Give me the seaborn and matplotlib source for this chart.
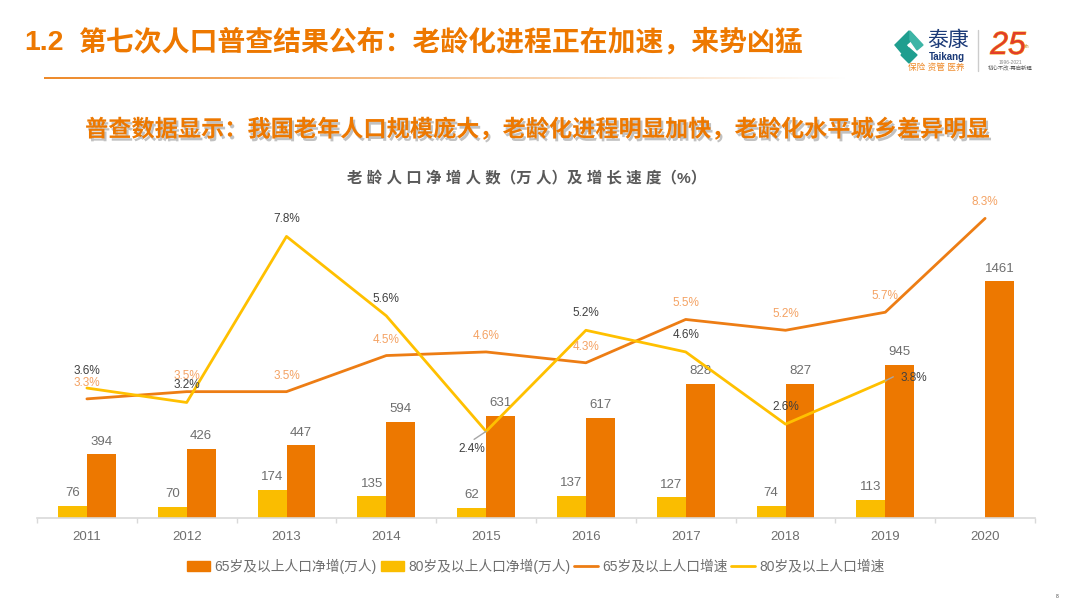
import numpy as np
import pandas as pd
import matplotlib
matplotlib.use("Agg")
import matplotlib.pyplot as plt
import matplotlib.patheffects as pe
from matplotlib.lines import Line2D
from matplotlib.patches import Patch, Polygon
from matplotlib.ticker import FixedLocator
import seaborn as sns

years = ["2011", "2012", "2013", "2014", "2015", "2016", "2017", "2018", "2019", "2020"]
net_65 = [394, 426, 447, 594, 631, 617, 828, 827, 945, 1461]
net_80 = [76, 70, 174, 135, 62, 137, 127, 74, 113, np.nan]
rate_65 = [3.3, 3.5, 3.5, 4.5, 4.6, 4.3, 5.5, 5.2, 5.7, 8.3]
rate_80 = [3.6, 3.2, 7.8, 5.6, 2.4, 5.2, 4.6, 2.6, 3.8, np.nan]
name_b65 = "65岁及以上人口净增(万人)"
name_b80 = "80岁及以上人口净增(万人)"
name_l65 = "65岁及以上人口增速"
name_l80 = "80岁及以上人口增速"

sns.set_theme(style="white")
plt.rcParams["font.family"] = ["Liberation Sans", "Noto Sans CJK SC", "DejaVu Sans"]

ORANGE = "#ED7800"
YELLOW = "#FABD00"
LINE_O = "#ED7D14"
LINE_Y = "#FFC000"
GREY = "#6E6E6E"

W, H = 1080, 600
fig = plt.figure(figsize=(W / 100, H / 100), dpi=100, facecolor="white")

def px_axes(l, t, r, b):
    return fig.add_axes([l / W, 1 - b / H, (r - l) / W, (b - t) / H])

TOP, BASE, LEFT, RIGHT = 190, 518, 37, 1035
ax = px_axes(LEFT, TOP, RIGHT, BASE)
df = pd.DataFrame({"year": years * 2,
                   "value": net_80 + net_65,
                   "series": [name_b80] * 10 + [name_b65] * 10})
sns.barplot(data=df, x="year", y="value", hue="series", hue_order=[name_b80, name_b65],
            palette=[YELLOW, ORANGE], width=0.58, gap=0, dodge=True, saturation=1,
            legend=False, linewidth=0, ax=ax)
ax.set_xlim(-0.5, 9.5)
ax.set_ylim(0, (BASE - TOP) / 0.1622)
ax.set_xlabel("")
ax.set_ylabel("")
ax.set_yticks([])
ax.patch.set_alpha(0)
for s in ["top", "left", "right"]:
    ax.spines[s].set_visible(False)
ax.spines["bottom"].set_color("#D9D9D9")
ax.spines["bottom"].set_linewidth(1.2)
ax.xaxis.set_minor_locator(FixedLocator(np.arange(-0.5, 10, 1)))
ax.tick_params(axis="x", which="major", length=0, pad=9, labelsize=9.5, labelcolor=GREY)
ax.tick_params(axis="x", which="minor", length=3.5, width=1, color="#D9D9D9", bottom=True)

for i, v in enumerate(net_65):
    ax.annotate(str(v), (i + 0.145, v), xytext=(0, 9), textcoords="offset points",
                ha="center", va="center", fontsize=9.5, color=GREY)
for i, v in enumerate(net_80):
    if not np.isnan(v):
        ax.annotate(str(int(v)), (i - 0.145, v), xytext=(0, 9), textcoords="offset points",
                    ha="center", va="center", fontsize=9.5, color=GREY)

ax2 = ax.twinx()
xs = np.arange(len(years))
sns.lineplot(x=xs, y=rate_65, color=LINE_O, linewidth=2, ax=ax2, sort=False, errorbar=None)
sns.lineplot(x=xs, y=rate_80, color=LINE_Y, linewidth=2, ax=ax2, sort=False, errorbar=None)
ax2.set_xlim(-0.5, 9.5)
ax2.set_ylim(0, (BASE - TOP) / 36.1)
ax2.set_yticks([])
ax2.set_ylabel("")
for s in ax2.spines.values():
    s.set_visible(False)

# offsets in px (dx, dy up) for the rate labels
P = 0.72
for i, v in enumerate(rate_65):
    ax2.annotate(f"{v}%", (i, v), xytext=(0, 16 * P), textcoords="offset points",
                 ha="center", va="center", fontsize=8.5, color="#F4A263")
off_80 = {4: (-14, -18), 8: (29, 3)}
for i, v in enumerate(rate_80):
    if np.isnan(v):
        continue
    dx, dy = off_80.get(i, (0, 17))
    ax2.annotate(f"{v}%", (i, v), xytext=(dx * P, dy * P), textcoords="offset points",
                 ha="center", va="center", fontsize=8.5, color="#404040")
ax2.annotate("", (4, rate_80[4]), xytext=(-12 * P, -8 * P), textcoords="offset points",
             arrowprops=dict(arrowstyle="-", color="#A6A6A6", lw=1, shrinkA=0, shrinkB=0))
ax2.annotate("", (8, rate_80[8]), xytext=(8 * P, 4 * P), textcoords="offset points",
             arrowprops=dict(arrowstyle="-", color="#A6A6A6", lw=1, shrinkA=0, shrinkB=0))

# page-level overlay in pixel coordinates
ov = fig.add_axes([0, 0, 1, 1], zorder=-1)
grad = np.ones((1, 256, 4))
grad[..., :3] = matplotlib.colors.to_rgb("#EE8A2A")
grad[..., 3] = np.linspace(1, 0, 256)
ov.imshow(grad, extent=[44, 850, 79, 77], aspect="auto", interpolation="bilinear")
ov.set_xlim(0, W)
ov.set_ylim(H, 0)
ov.axis("off")

ov.text(24, 43, "1.2", fontsize=20.5, fontweight="bold", color=ORANGE, va="center")
ov.text(78, 43, "第七次人口普查结果公布：老龄化进程正在加速，来势凶猛", fontsize=20.05,
        fontweight="bold", color=ORANGE, va="center")
ov.text(536, 130, "普查数据显示：我国老年人口规模庞大，老龄化进程明显加快，老龄化水平城乡差异明显",
        fontsize=16.7, fontweight="bold", color=ORANGE, va="center", ha="center",
        path_effects=[pe.withSimplePatchShadow(offset=(1.5, -2), shadow_rgbFace="#999999", alpha=0.6)])
ov.text(527, 179, "老 龄 人 口 净 增 人 数（万 人）及 增 长 速 度（%）", fontsize=11.15, fontweight="bold",
        color="#595959", va="center", ha="center")

# logo
TEAL = "#1F9E8F"
ov.add_patch(Polygon([(895, 45), (909, 31), (915, 37), (906, 45), (910, 50), (905, 57)], color=TEAL))
ov.add_patch(Polygon([(910, 31), (923, 45), (917, 50), (910, 40)], color="#3DB5A6"))
ov.add_patch(Polygon([(909, 48), (917, 55), (909, 63), (901, 55)], color=TEAL))
ov.text(948, 40, "泰康", fontsize=15, color="#1B3A78", ha="center", va="center", family=["Noto Sans CJK SC"])
ov.text(947, 57, "Taikang", fontsize=7, fontweight="bold", color="#1B3A78", ha="center", va="center")
ov.text(936, 67, "保险 资管 医养", fontsize=6.2, color="#EE8A2A", ha="center", va="center")
ov.plot([978, 978], [30, 71], color="#CCCCCC", lw=1)
ov.text(1008, 46, "25", fontsize=23, style="italic", color="#E23D2A", ha="center", va="center",
        path_effects=[pe.withStroke(linewidth=0.8, foreground="#F5A623")])
ov.text(1027, 47, "th", fontsize=4, color="#C98A20", ha="center", va="center")
ov.text(1010, 63, "1996-2021", fontsize=3.5, color="#888888", ha="center", va="center")
ov.text(1010, 68, "初心不改·再启新程", fontsize=3.9, color="#555555", ha="center", va="center")
ov.text(1057, 597, "8", fontsize=3.5, color="#404040", ha="center", va="center")

handles = [Patch(color=ORANGE, label=name_b65), Patch(color=YELLOW, label=name_b80),
           Line2D([], [], color=LINE_O, lw=2, label=name_l65),
           Line2D([], [], color=LINE_Y, lw=2, label=name_l80)]
leg = fig.legend(handles=handles, ncol=4, loc="center", bbox_to_anchor=(535.5 / W, 1 - 566 / H),
                 frameon=False, fontsize=9.9, labelcolor=GREY, handlelength=1.7, handleheight=0.8,
                 handletextpad=0.3, columnspacing=0.3, borderpad=0)

fig.savefig("out.png", dpi=100)
